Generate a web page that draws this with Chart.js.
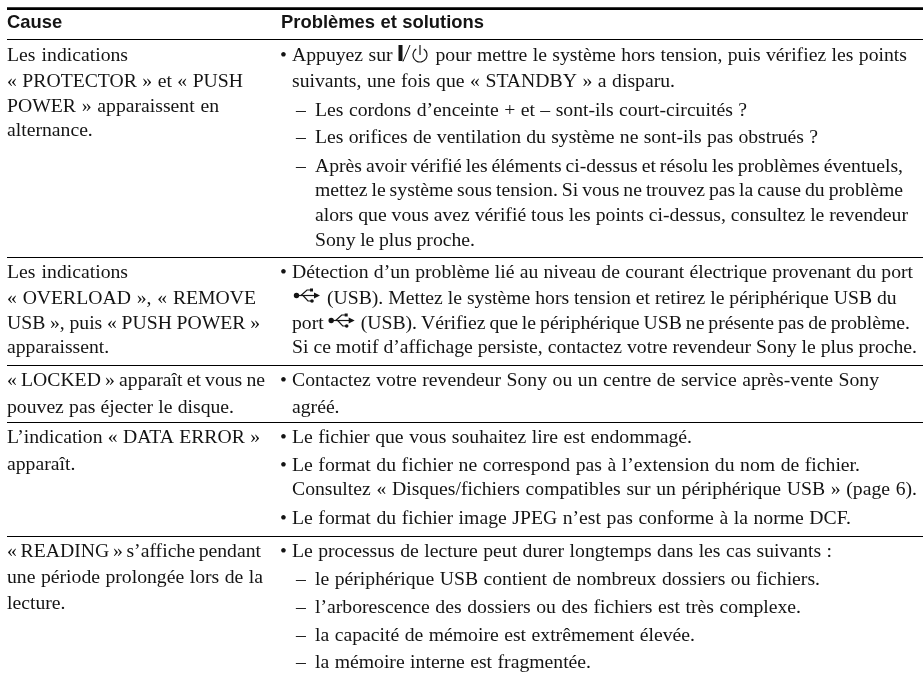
<!DOCTYPE html>
<html lang="fr">
<head>
<meta charset="utf-8">
<title>Cause / Problèmes et solutions</title>
<script src="https://cdn.jsdelivr.net/npm/chart.js@4/dist/chart.umd.min.js"></script>
<style>html,body{margin:0;padding:0;background:#fff}#w{width:923px;height:675px;position:relative}canvas{filter:blur(.3px)}</style>
</head>
<body>
<div id="w"><canvas id="c"></canvas></div>
<script>
// ---- Content ----
const headers = ["Cause", "Problèmes et solutions"];
const causeLines = [
  "Les indications", "« PROTECTOR » et « PUSH", "POWER » apparaissent en", "alternance.",
  "Les indications", "« OVERLOAD », « REMOVE", "USB », puis « PUSH POWER »", "apparaissent.",
  "« LOCKED » apparaît et vous ne", "pouvez pas éjecter le disque.",
  "L’indication « DATA ERROR »", "apparaît.",
  "« READING » s’affiche pendant", "une période prolongée lors de la", "lecture."
];
const solutionLines = [
  "Appuyez sur {P} pour mettre le système hors tension, puis vérifiez les points",
  "suivants, une fois que « STANDBY » a disparu.",
  "Les cordons d’enceinte + et – sont-ils court-circuités ?",
  "Les orifices de ventilation du système ne sont-ils pas obstrués ?",
  "Après avoir vérifié les éléments ci-dessus et résolu les problèmes éventuels,",
  "mettez le système sous tension. Si vous ne trouvez pas la cause du problème",
  "alors que vous avez vérifié tous les points ci-dessus, consultez le revendeur",
  "Sony le plus proche.",
  "Détection d’un problème lié au niveau de courant électrique provenant du port",
  "{U} (USB). Mettez le système hors tension et retirez le périphérique USB du",
  "port {U} (USB). Vérifiez que le périphérique USB ne présente pas de problème.",
  "Si ce motif d’affichage persiste, contactez votre revendeur Sony le plus proche.",
  "Contactez votre revendeur Sony ou un centre de service après-vente Sony",
  "agréé.",
  "Le fichier que vous souhaitez lire est endommagé.",
  "Le format du fichier ne correspond pas à l’extension du nom de fichier.",
  "Consultez « Disques/fichiers compatibles sur un périphérique USB » (page 6).",
  "Le format du fichier image JPEG n’est pas conforme à la norme DCF.",
  "Le processus de lecture peut durer longtemps dans les cas suivants :",
  "le périphérique USB contient de nombreux dossiers ou fichiers.",
  "l’arborescence des dossiers ou des fichiers est très complexe.",
  "la capacité de mémoire est extrêmement élevée.",
  "la mémoire interne est fragmentée."
];
const solutionMarks = ["•","","–","–","–","","","","•","","","","•","","•","•","","•","•","–","–","–","–"];

// ---- Readings on the page axes ----
const headerX = [7, 281];
const headerRight = [62, 484];
const headerY = [28, 28];
const causeX = [7,7,7,7, 7,7,7,7, 7,7, 7,7, 7,7,7];
const causeRight = [128,243,219,92, 128,256,260,110, 265,234, 260,75, 261,263,63];
const causeY = [61,87,112,136, 278,304,329,353, 386,413, 443,470, 557,583,609];
const solutionX = [292,292,315,315,315,315,315,315, 292,293,292,292, 292,292, 292,292,292,292, 292,315,315,315,315];
const solutionRight = [907,675,747,818,903,903,908,475, 913,905,910,917, 879,338, 692,860,917,851, 832,820,801,695,591];
const solutionY = [61,87,116,143,172,196,221,246, 278,304,329,353, 386,413, 443,471,495,524, 557,585,613,641,668];
const markX = [280,0,296,296,296,0,0,0, 280,0,0,0, 280,0, 280,280,0,280, 280,296,296,296,296];
const ruleThickY = [8.7];
const ruleThinY = [39.5, 257.5, 365.5, 422.5, 536.5];
const ruleStartX = 7, ruleEndX = 923;

// ---- Fonts ----
const BODY = '19.7px "Liberation Serif"';
const HEAD = 'bold 18.4px "Liberation Sans"';
const INK = '#141414';

function glyphWidth(t){ return t === '{P}' ? 32 : 29; }

function drawPower(ctx, x, base){
  ctx.save();
  ctx.strokeStyle = INK; ctx.fillStyle = INK;
  ctx.fillRect(x + 0.5, base - 16, 4, 16);
  ctx.lineWidth = 1;
  ctx.beginPath(); ctx.moveTo(x + 5, base + 0.5); ctx.lineTo(x + 12, base - 16); ctx.stroke();
  ctx.lineWidth = 1.2;
  ctx.beginPath(); ctx.arc(x + 22, base - 6, 7, -Math.PI * 0.32, Math.PI * 1.32); ctx.stroke();
  ctx.beginPath(); ctx.moveTo(x + 22, base - 16); ctx.lineTo(x + 22, base - 6); ctx.stroke();
  ctx.restore();
}
function drawUsb(ctx, x, base){
  const m = base - 8.5;
  ctx.save();
  ctx.strokeStyle = INK; ctx.fillStyle = INK; ctx.lineWidth = 1.2;
  ctx.beginPath(); ctx.moveTo(x + 3, m); ctx.lineTo(x + 25, m); ctx.stroke();
  ctx.beginPath(); ctx.arc(x + 3.5, m, 2.7, 0, 7); ctx.fill();
  ctx.beginPath(); ctx.moveTo(x + 27, m); ctx.lineTo(x + 21, m - 3); ctx.lineTo(x + 21, m + 3); ctx.closePath(); ctx.fill();
  ctx.beginPath(); ctx.moveTo(x + 8, m); ctx.lineTo(x + 14, m - 5.5); ctx.lineTo(x + 18, m - 5.5); ctx.stroke();
  ctx.fillRect(x + 17, m - 7, 3, 3);
  ctx.beginPath(); ctx.moveTo(x + 10, m); ctx.lineTo(x + 15, m + 5.5); ctx.lineTo(x + 18, m + 5.5); ctx.stroke();
  ctx.beginPath(); ctx.arc(x + 19, m + 5.5, 1.8, 0, 7); ctx.fill();
  ctx.restore();
}

// Draws a text line at a parsed point, spacing its words so it ends at the right reading.
function fitLine(ctx, text, px, py, rightPx){
  const parts = text.split(/(\{P\}|\{U\})/).filter(s => s.length);
  ctx.wordSpacing = '0px';
  let natural = 0, spaces = 0;
  for (const p of parts){
    if (p === '{P}' || p === '{U}') natural += glyphWidth(p);
    else { natural += ctx.measureText(p).width; spaces += (p.match(/ /g) || []).length; }
  }
  const extra = spaces ? (rightPx - px - natural) / spaces : 0;
  ctx.wordSpacing = extra.toFixed(3) + 'px';
  let x = px;
  for (const p of parts){
    if (p === '{P}'){ drawPower(ctx, x, py); x += glyphWidth(p); }
    else if (p === '{U}'){ drawUsb(ctx, x, py); x += glyphWidth(p); }
    else { ctx.fillText(p, x, py); x += ctx.measureText(p).width; }
  }
  ctx.wordSpacing = '0px';
}

const tableText = {
  id: 'tableText',
  afterDatasetsDraw(chart){
    const ctx = chart.ctx;
    ctx.save();
    ctx.textBaseline = 'alphabetic';
    ctx.textAlign = 'left';
    ctx.fillStyle = INK;
    chart.data.datasets.forEach((ds, i) => {
      if (!ds.lines) return;
      ctx.font = ds.textFont;
      chart.getDatasetMeta(i).data.forEach((pt, k) => {
        if (!ds.lines[k]) return;
        const right = ds.rights ? chart.scales.x.getPixelForValue(ds.rights[k]) : null;
        if (right === null) ctx.fillText(ds.lines[k], pt.x, pt.y);
        else fitLine(ctx, ds.lines[k], pt.x, pt.y, right);
      });
    });
    ctx.restore();
  }
};

const pts = (xs, ys) => xs.map((x, i) => ({ x, y: ys[i] }));
const ruleData = ys => ys.flatMap(y => [{ x: ruleStartX, y }, { x: ruleEndX, y }, { x: NaN, y: NaN }]);
const textSet = (label, xs, ys, lines, rights, textFont) => ({
  label, data: pts(xs, ys), lines, rights, textFont, pointRadius: 0, showLine: false
});
const ruleSet = (label, ys, w) => ({
  label, data: ruleData(ys), showLine: true, borderColor: '#000', borderWidth: w, pointRadius: 0, spanGaps: false
});

new Chart(document.getElementById('c'), {
  type: 'scatter',
  data: {
    datasets: [
      ruleSet('Filets épais', ruleThickY, 2.7),
      ruleSet('Filets', ruleThinY, 1),
      textSet('En-têtes', headerX, headerY, headers, headerRight, HEAD),
      textSet('Cause', causeX, causeY, causeLines, causeRight, BODY),
      textSet('Problèmes et solutions', solutionX, solutionY, solutionLines, solutionRight, BODY),
      textSet('Repères', markX, solutionY, solutionMarks, null, BODY)
    ]
  },
  options: {
    responsive: true,
    maintainAspectRatio: false,
    animation: false,
    layout: { padding: 0 },
    plugins: { legend: { display: false }, tooltip: { enabled: false }, title: { display: false } },
    scales: {
      x: { type: 'linear', min: 0, max: 923, display: false },
      y: { type: 'linear', min: 0, max: 675, reverse: true, display: false }
    }
  },
  plugins: [tableText]
});
</script>
</body>
</html>
